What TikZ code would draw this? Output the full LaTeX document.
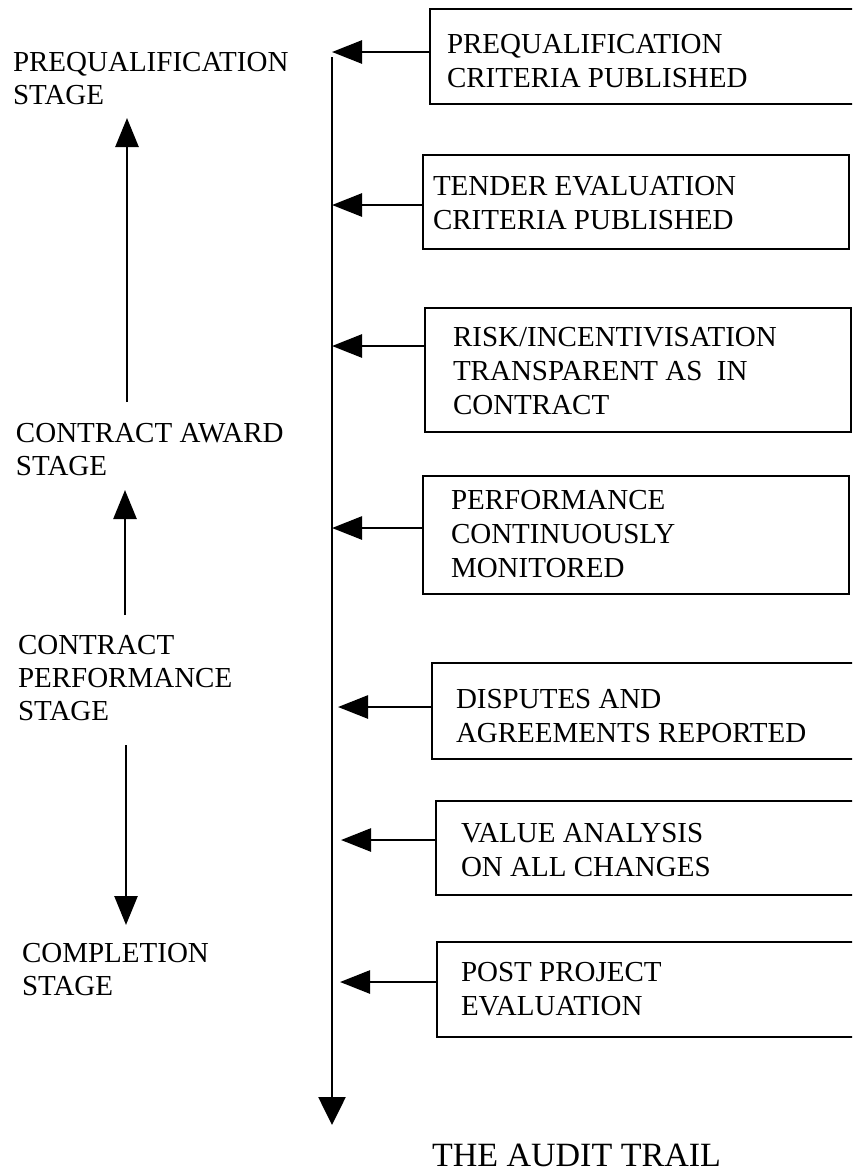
\documentclass[tikz,border=0pt]{standalone}
\usepackage{fontspec}
\setmainfont{Liberation Serif}
\usetikzlibrary{arrows.meta}
\begin{document}
\begin{tikzpicture}[x=1pt,y=-1pt,
  every node/.style={inner sep=0pt, outer sep=0pt},
  % multi-line labels are anchored on the baseline of their last line
  stagelabel/.style={anchor=base west, align=left, font=\fontsize{29}{33}\selectfont},
  boxtext/.style={anchor=base west, align=left, font=\fontsize{29}{34}\selectfont},
  box/.style={draw, line width=2.4pt, anchor=north west},
  conn/.style={line width=2.6pt, -{Triangle[length=30pt,width=23pt]}},
  stagearrow/.style={line width=2.6pt, -{Triangle[length=29pt,width=23pt]}},
  trail/.style={line width=2.6pt, -{Triangle[length=28pt,width=27pt]}}
]
\clip (0,0) rectangle (852,1175);

% stage labels on the left
\node[stagelabel] (pq)   at (13,104) {PREQUALIFICATION\\STAGE};
\node[stagelabel] (ca)   at (16,475) {CONTRACT AWARD\\STAGE};
\node[stagelabel] (cp)   at (18,720) {CONTRACT\\PERFORMANCE\\STAGE};
\node[stagelabel] (comp) at (22,995) {COMPLETION\\STAGE};

% arrows between the stages
\coordinate (a1s) at (127,402); \coordinate (a1e) at (127,118);
\coordinate (a2s) at (125,615); \coordinate (a2e) at (125,490);
\coordinate (a3s) at (126,745); \coordinate (a3e) at (126,925);
\draw[stagearrow] (a1s) -- (a1e);
\draw[stagearrow] (a2s) -- (a2e);
\draw[stagearrow] (a3s) -- (a3e);

% the audit trail line
\coordinate (trailtop) at (332,57);
\coordinate (trailend) at (332,1125);
\draw[trail] (trailtop) -- (trailend);

% boxes
\node[box, minimum width=440pt, minimum height=95pt]  (b1) at (430,9)   {};
\node[box, minimum width=426pt, minimum height=94pt]  (b2) at (423,155) {};
\node[box, minimum width=426pt, minimum height=124pt] (b3) at (425,308) {};
\node[box, minimum width=426pt, minimum height=118pt] (b4) at (423,476) {};
\node[box, minimum width=440pt, minimum height=96pt]  (b5) at (432,663) {};
\node[box, minimum width=440pt, minimum height=94pt]  (b6) at (436,801) {};
\node[box, minimum width=440pt, minimum height=95pt]  (b7) at (437,942) {};

% box texts
\node[boxtext] (t1) at (447,87)   {PREQUALIFICATION\\CRITERIA PUBLISHED};
\node[boxtext] (t2) at (433,229)  {TENDER EVALUATION\\CRITERIA PUBLISHED};
\node[boxtext] (t3) at (453,414)  {RISK/INCENTIVISATION\\TRANSPARENT AS~~IN\\CONTRACT};
\node[boxtext] (t4) at (451,577)  {PERFORMANCE\\CONTINUOUSLY\\MONITORED};
\node[boxtext] (t5) at (456,742)  {DISPUTES AND\\AGREEMENTS REPORTED};
\node[boxtext] (t6) at (461,876)  {VALUE ANALYSIS\\ON ALL CHANGES};
\node[boxtext] (t7) at (461,1015) {POST PROJECT\\EVALUATION};

% connectors from the boxes to the trail
\draw[conn] ([yshift=4.5pt]b1.west) -- ([yshift=4.5pt]b1.west -| trailtop);
\draw[conn] ([yshift=-3pt]b2.west)  -- ([yshift=-3pt]b2.west -| trailtop);
\draw[conn] ([yshift=24pt]b3.west)  -- ([yshift=24pt]b3.west -| trailtop);
\draw[conn] ([yshift=7pt]b4.west)   -- ([yshift=7pt]b4.west -| trailtop);
\draw[conn] ([yshift=4pt]b5.west)   -- ([xshift=6pt,yshift=4pt]b5.west -| trailtop);
\draw[conn] ([yshift=8pt]b6.west)   -- ([xshift=9pt,yshift=8pt]b6.west -| trailtop);
\draw[conn] ([yshift=7.5pt]b7.west) -- ([xshift=8pt,yshift=7.5pt]b7.west -| trailtop);

% caption
\node[anchor=base west, text depth=0pt, font=\fontsize{34}{40}\selectfont] (title) at (432,1166) {THE AUDIT TRAIL};
\end{tikzpicture}
\end{document}
